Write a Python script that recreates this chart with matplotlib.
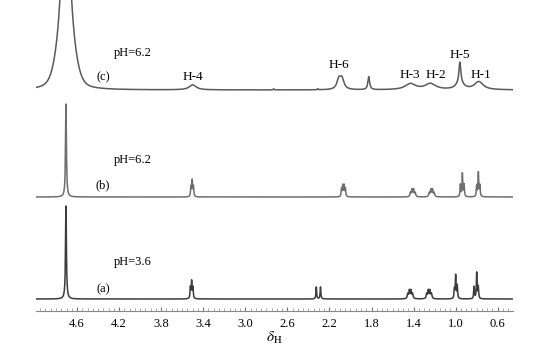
import numpy as np
import matplotlib
matplotlib.use("Agg")
import matplotlib.pyplot as plt
from matplotlib.ticker import MultipleLocator

plt.rcParams['font.family'] = ['Liberation Serif', 'DejaVu Serif']
plt.rcParams['mathtext.fontset'] = 'stix'

# peak lists: (shift ppm, height, width ppm, shape)
# shape 'l' = lorentzian, 'g' = gaussian; heights in the stacked y units
peaks_a = [(4.705, 93, 0.005, 'l'),
           (3.522, 11, 0.004, 'l'), (3.51, 17, 0.004, 'l'), (3.498, 11, 0.004, 'l'),
           (2.325, 12, 0.004, 'l'), (2.285, 12, 0.004, 'l'),
           (1.455, 5, 0.006, 'l'), (1.44, 8, 0.005, 'l'), (1.425, 8, 0.005, 'l'), (1.41, 5, 0.006, 'l'),
           (1.275, 5, 0.006, 'l'), (1.26, 8, 0.005, 'l'), (1.245, 8, 0.005, 'l'), (1.23, 5, 0.006, 'l'),
           (1.012, 9, 0.004, 'l'), (1.0, 23, 0.004, 'l'), (0.985, 13, 0.004, 'l'),
           (0.825, 12, 0.004, 'l'), (0.80, 26, 0.004, 'l'), (0.785, 12, 0.004, 'l')]

peaks_b = [(4.705, 93, 0.005, 'l'),
           (3.517, 10, 0.004, 'l'), (3.505, 16, 0.004, 'l'), (3.493, 10, 0.004, 'l'),
           (2.085, 8, 0.004, 'l'), (2.073, 11, 0.004, 'l'), (2.06, 11, 0.004, 'l'), (2.048, 8, 0.004, 'l'),
           (1.43, 4, 0.006, 'l'), (1.415, 7, 0.005, 'l'), (1.40, 7, 0.005, 'l'), (1.385, 4, 0.006, 'l'),
           (1.25, 4, 0.006, 'l'), (1.235, 7, 0.005, 'l'), (1.22, 7, 0.005, 'l'), (1.205, 4, 0.006, 'l'),
           (0.955, 12, 0.004, 'l'), (0.936, 23, 0.004, 'l'), (0.92, 12, 0.004, 'l'),
           (0.80, 11, 0.004, 'l'), (0.784, 24, 0.004, 'l'), (0.77, 11, 0.004, 'l')]

peaks_c = [(4.707, 233, 0.03, 'l'), (4.707, 53, 0.07, 'g'),
           (3.50, 5, 0.04, 'l'),
           (2.73, 1, 0.005, 'l'), (2.31, 1, 0.005, 'l'),
           (2.11, 10, 0.022, 'l'), (2.08, 10, 0.022, 'l'),
           (1.826, 13, 0.01, 'l'),
           (1.43, 6, 0.06, 'l'), (1.24, 6, 0.06, 'l'),
           (0.96, 20, 0.01, 'l'), (0.96, 7, 0.04, 'l'),
           (0.78, 8, 0.05, 'l')]

offsets = [12, 114, 221]
line_colors = ['#3c3c3c', '#6e6e6e', '#5a5a5a']

tags = ['(a)', '(b)', '(c)']
ph_labels = ['pH=3.6', 'pH=6.2', 'pH=6.2']
tag_y = [22, 126, 234]
ph_y = [49, 151, 258]

h_names = ['H-4', 'H-6', 'H-3', 'H-2', 'H-5', 'H-1']
h_x = [3.50, 2.11, 1.44, 1.19, 0.96, 0.76]
h_y = [234, 246, 236, 236, 256, 236]

x_lo, x_hi = 0.455, 4.99
ppm = np.linspace(x_lo, x_hi, 30000)


def spectrum(peaks):
    y = np.zeros_like(ppm)
    for c, h, w, kind in peaks:
        if kind == 'g':
            y += h * np.exp(-(ppm - c)**2 / (2 * w**2))
        else:
            y += h * w**2 / ((ppm - c)**2 + w**2)
    return y


fig = plt.figure(figsize=(5.56, 3.51), dpi=100)
ax = fig.add_axes([36/556, 40/351, 477/556, 311/351])

for peaks, off, col in zip([peaks_a, peaks_b, peaks_c], offsets, line_colors):
    ax.plot(ppm, spectrum(peaks) + off, color=col, lw=1.1)

for t, p, ty, py in zip(tags, ph_labels, tag_y, ph_y):
    ax.text(4.354, ty, t, ha='center', va='center', fontsize=9)
    ax.text(4.07, py, p, ha='center', va='center', fontsize=9)

for name, hx, hy in zip(h_names, h_x, h_y):
    ax.text(hx, hy, name, ha='center', va='center', fontsize=9.5)

ax.set_xlim(x_hi, x_lo)
ax.set_ylim(0, 311)
ax.xaxis.set_minor_locator(MultipleLocator(0.05))
ax.set_xticks([4.6, 4.2, 3.8, 3.4, 3.0, 2.6, 2.2, 1.8, 1.4, 1.0, 0.6])
ax.tick_params(axis='x', which='major', direction='in', length=3, color='#777777',
               labelsize=9, pad=5)
ax.tick_params(axis='x', which='minor', direction='in', length=2, color='#999999')
ax.set_yticks([])
for s in ['top', 'left', 'right']:
    ax.spines[s].set_visible(False)
ax.spines['bottom'].set_color('#888888')
ax.spines['bottom'].set_linewidth(0.8)
ax.set_xlabel(r'$\delta_{\rm H}$', fontsize=11, labelpad=0)

fig.savefig('out.png', dpi=100)
